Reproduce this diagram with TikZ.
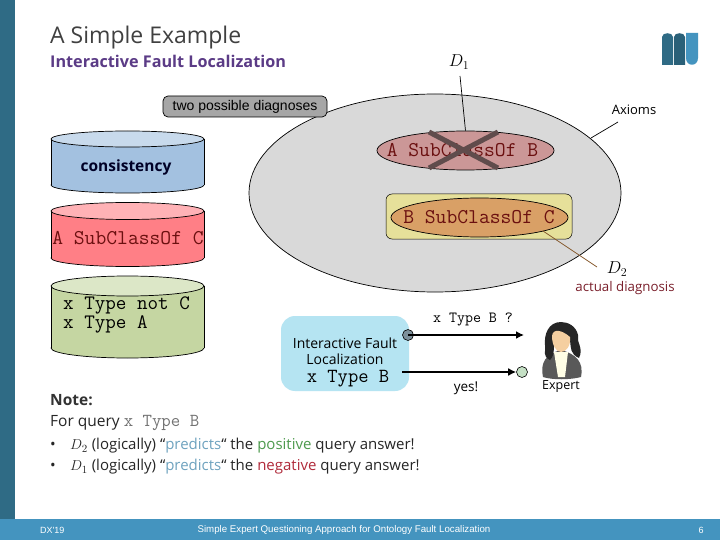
\documentclass[tikz,border=0pt]{standalone}
\usepackage{fontspec}
\setmainfont{Open Sans}
\newfontfamily\arialf{Liberation Sans}
\usetikzlibrary{arrows.meta,shapes.geometric}
\definecolor{barL}{HTML}{2F6B85}
\definecolor{barB}{HTML}{4494BF}
\definecolor{titlec}{HTML}{404040}
\definecolor{subc}{HTML}{5B3B86}
\definecolor{darkred}{HTML}{7A1F2B}
\definecolor{monoR}{HTML}{6B1010}
\definecolor{predc}{HTML}{6FA3BF}
\definecolor{posc}{HTML}{4E9A4E}
\definecolor{negc}{HTML}{B02A3A}
\definecolor{crossc}{HTML}{604C4C}
\definecolor{abfill}{HTML}{CB9797}
\definecolor{bcfill}{HTML}{D9A066}
\definecolor{ybfill}{HTML}{E6E09A}
\definecolor{iflfill}{HTML}{B5E4F2}
\definecolor{skin}{HTML}{F5CFA0}
\tikzset{
  x=1pt,y=-1pt,
  sans/.style={inner sep=0pt,font=\fontsize{#1}{#1}\selectfont},
  mono/.style={inner sep=0pt,font=\ttfamily\fontsize{#1}{#1}\selectfont},
  thinl/.style={draw=black,line width=0.7pt},
  oval/.style={shape=ellipse,inner sep=0pt,thinl},
  arrowl/.style={draw=black,line width=1.8pt,-{Latex[length=8pt,width=8pt]}},
  cross/.style={draw=crossc,line width=5pt},
}
\newcommand{\cyl}[6]{% x1 x2 ytop ybottom ry, colour
  \fill[#6,thinl] ({(#1+#2)/2},#4) ellipse[x radius={(#2-#1)/2},y radius=#5];
  \fill[#6] (#1,#3) rectangle (#2,#4);
  \draw[thinl] (#1,#3) -- (#1,#4) (#2,#3) -- (#2,#4);
  \fill[#6!60!white,thinl] ({(#1+#2)/2},#3) ellipse[x radius={(#2-#1)/2},y radius=#5];
}
\begin{document}
\begin{tikzpicture}
\useasboundingbox (0,0) rectangle (720,540);
\fill[white] (0,0) rectangle (720,540);
\fill[barL] (0,0) rectangle (15,519);
\fill[barB] (0,519) rectangle (720,540);
% logo
\fill[barL] (662,65) -- (662,37) .. controls (662,32) and (673,32) .. (673,37) -- (673,65) -- cycle;
\fill[barL!90!black] (674,65) -- (674,37) .. controls (674,32) and (685,32) .. (685,37) -- (685,65) -- cycle;
\fill[barB] (686,33) -- (698,33) -- (698,58) .. controls (698,67) and (686,67) .. (686,58) -- cycle;
\node[sans=23,anchor=west,text=titlec] (title) at (50,38) {A Simple Example};
\node[anchor=west,inner sep=0pt,text=subc,font=\bfseries\fontsize{16.2}{16.2}\selectfont] (sub) at (50,61) {Interactive Fault Localization};
% big ellipse
\node[oval,fill=black!15,minimum width=372pt,minimum height=198pt] (axioms) at (435,193) {};
\node[draw=black,line width=0.7pt,fill=black!35,rounded corners=5pt,minimum width=164pt,minimum height=21pt,inner sep=0pt,font=\arialf\fontsize{14}{14}\selectfont] (two) at (245,106.5) {two possible diagnoses};
% cylinders
\definecolor{cylb}{HTML}{A3C1E0}
\definecolor{cylr}{HTML}{FF7F86}
\definecolor{cylg}{HTML}{C5D6A2}
\cyl{51}{204}{139}{185}{8}{cylb}
\cyl{51}{204}{211}{258}{8.5}{cylr}
\cyl{51}{204}{286}{348}{10}{cylg}
\node[inner sep=0pt,text=black!85!blue,font=\bfseries\fontsize{15.5}{15.5}\selectfont] (cons) at (126,167) {consistency};
\node[mono=21,text=monoR] (ac) at (128,238) {A SubClassOf C};
\node[inner sep=0pt,anchor=north west,align=left,font=\ttfamily\fontsize{20.5}{19}\selectfont] (xn) at (63,297) {x Type not C\\x Type A};
% axiom ellipses
\node[oval,fill=abfill,minimum width=177pt,minimum height=39pt] (ab) at (465.5,150.5) {};
\node[mono=21,text=monoR] (abt) at (462.5,150) {A SubClassOf B};
\coordinate (c1) at (429,132); \coordinate (c2) at (498,168);
\coordinate (c3) at (498,132); \coordinate (c4) at (429,168);
\draw[cross] (c1) -- (c2);
\draw[cross] (c3) -- (c4);
\node[draw=black,line width=0.5pt,fill=ybfill,rounded corners=6pt,minimum width=186pt,minimum height=45pt,inner sep=0pt] (ybox) at (479,216.5) {};
\node[oval,fill=bcfill,minimum width=177pt,minimum height=39pt] (bc) at (479.5,217.5) {};
\node[mono=21,text=monoR] (bct) at (479,217) {B SubClassOf C};
% labels and lines
\node[inner sep=0pt,font=\fontsize{17}{17}\selectfont] (d1) at (459,62) {$D_1$};
\coordinate (d1e) at (460,76);
\draw[thinl] (d1e) -- (ab.north);
\node[inner sep=0pt,font=\fontsize{17}{17}\selectfont] (d2) at (617,269) {$D_2$};
\coordinate (d2s) at (543,231); \coordinate (d2e) at (597,267);
\draw[draw=brown!70!black,line width=0.8pt] (d2s) -- (d2e);
\node[sans=13.3,text=darkred] (ad) at (625,288) {actual diagnosis};
\node[sans=13] (axl) at (634,110) {Axioms};
\coordinate (al1) at (618,122); \coordinate (al2) at (591,138);
\draw[thinl] (al1) -- (al2);
% IFL
\node[fill=iflfill,rounded corners=14pt,minimum width=128pt,minimum height=75pt,inner sep=0pt] (ifl) at (345,353.5) {};
\node[inner sep=0pt,align=center,font=\fontsize{14}{16.5}\selectfont] (i1) at (345,351) {Interactive Fault\\Localization};
\node[mono=20] (i3) at (348,379) {x Type B};
\node[circle,draw=black,line width=0.6pt,fill=black!30!cyan!30!gray,minimum size=11pt,inner sep=0pt] (qs) at (408,335) {};
\coordinate (qe) at (524,335);
\draw[arrowl] (qs.center) -- (qe);
\coordinate (as) at (402,372);
\node[circle,draw=black,line width=0.6pt,fill=green!30!gray!35!white,minimum size=11pt,inner sep=0pt] (ae) at (522,372) {};
\draw[arrowl] (as) -- (ae);
\node[mono=15.5] (q) at (473,319) {x Type B ?};
\node[sans=13.5] (yes) at (466,388) {yes!};
% expert
\fill[black!65] (543,377) .. controls (540,362) and (546,354) .. (561,350) .. controls (576,354) and (584,362) .. (581,377) .. controls (570,380) and (552,380) .. (543,377) -- cycle;
\fill[yellow!10!white] (554,352) -- (568,352) -- (565,377) -- (558,377) -- cycle;
\fill[black!85] (561,322) .. controls (548,322) and (544,335) .. (545,345) .. controls (546,352) and (542,356) .. (550,360) .. controls (556,354) and (553,345) .. (554,340) .. controls (558,332) and (566,332) .. (570,340) .. controls (571,348) and (570,354) .. (579,358) .. controls (584,348) and (576,342) .. (578,335) .. controls (576,326) and (568,322) .. (561,322) -- cycle;
\fill[skin] (552,336) .. controls (553,328) and (562,330) .. (570,337) .. controls (571,346) and (566,352) .. (561,352) .. controls (556,352) and (552,345) .. (552,336) -- cycle;
\node[sans=12.5] (exp) at (561,386.5) {Expert};
% note
\node[anchor=west,inner sep=0pt,font=\bfseries\fontsize{15.5}{15.5}\selectfont,text=black!80] (note) at (50,400) {Note:};
\node[sans=15.5,anchor=west,text=black!85] (nq) at (50,423) {For query {\ttfamily\color{black!55}\fontsize{18.3}{18.3}\selectfont x Type B}};
\node[sans=15,anchor=west,text=black!85] (n1b) at (50,446) {•};
\node[sans=15,anchor=west,text=black!85] (n1) at (70,446) {$D_2$ (logically) “{\color{predc}predicts}“ the {\color{posc}positive} query answer!};
\node[sans=15,anchor=west,text=black!85] (n2b) at (50,467) {•};
\node[sans=15,anchor=west,text=black!85] (n2) at (70,467) {$D_1$ (logically) “{\color{predc}predicts}“ the {\color{negc}negative} query answer!};
% footer
\node[anchor=west,inner sep=0pt,text=white,font=\arialf\fontsize{9}{9}\selectfont] (f1) at (40,530) {DX'19};
\node[anchor=center,inner sep=0pt,text=white,font=\arialf\fontsize{9.7}{9.7}\selectfont] (f2) at (344,530) {Simple Expert Questioning Approach for Ontology Fault Localization};
\node[inner sep=0pt,text=white,font=\arialf\fontsize{9}{9}\selectfont] (f3) at (701,530) {6};
\end{tikzpicture}
\end{document}
